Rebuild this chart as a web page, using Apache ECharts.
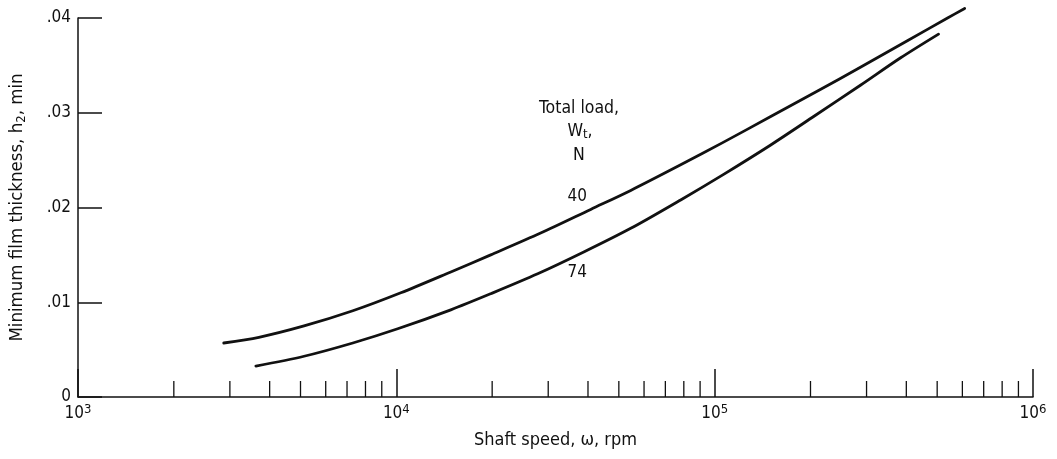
<!DOCTYPE html>
<html>
<head>
<meta charset="utf-8">
<script src="https://cdn.jsdelivr.net/npm/echarts@6/dist/echarts.min.js"></script>
<style>
html,body{margin:0;padding:0;background:#fff;}
#chart{width:1057px;height:459px;}
</style>
</head>
<body>
<div id="chart"></div>
<script>
// Shaft speed (rpm) and minimum film thickness (min)
const speed40 = [2870, 3700, 5130, 7300, 10330, 14830, 19800, 28400, 40800, 54500, 78200, 106700, 150000, 210500, 287000, 403000, 539000, 610000];
const film40  = [0.0057, 0.0063, 0.0075, 0.0091, 0.0110, 0.0132, 0.0150, 0.0173, 0.0198, 0.0218, 0.0245, 0.0269, 0.0296, 0.0323, 0.0348, 0.0376, 0.0400, 0.0410];
const speed74 = [3620, 5130, 7300, 10100, 14830, 19800, 27800, 38800, 54500, 78200, 106700, 150000, 204600, 287000, 384000, 505000];
const film74  = [0.00327, 0.0043, 0.0057, 0.0072, 0.0092, 0.0109, 0.0130, 0.0153, 0.0178, 0.0208, 0.0235, 0.0266, 0.0296, 0.0329, 0.0358, 0.0383];
const minorTickValues = [2000,3000,4000,5000,6000,7000,8000,9000,20000,30000,40000,50000,60000,70000,80000,90000,200000,300000,400000,500000,600000,700000,800000,900000];
const yTickLabels = ['0', '.01', '.02', '.03', '.04'];
const curveLabels = ['40', '74'];

const FONT = '"Liberation Sans Narrow","DejaVu Sans Condensed","Liberation Sans",sans-serif';
const chart = echarts.init(document.getElementById('chart'), null, {renderer: 'canvas'});

function pairs(xs, ys){ return xs.map((x,i)=>[x, ys[i]]); }

const baseGraphic = [
  {type: 'text', x: 579, y: 108, style: {text: 'Total load,', font: '17.5px ' + FONT, fill: '#111', align: 'center', verticalAlign: 'middle'}},
  {type: 'text', x: 580, y: 131, style: {text: 'W{s|t},', font: '17.5px ' + FONT, fill: '#111', align: 'center', verticalAlign: 'middle',
    rich: {s: {fontSize: 13, fontFamily: FONT, fill: '#111', verticalAlign: 'bottom', padding: [8,0,0,0]}}}},
  {type: 'text', x: 579, y: 155, style: {text: 'N', font: '17.5px ' + FONT, fill: '#111', align: 'center', verticalAlign: 'middle'}}
];

const option = {
  backgroundColor: '#fff',
  animation: false,
  grid: {left: 77, right: 24, top: 18, bottom: 62, containLabel: false},
  xAxis: {
    type: 'log', logBase: 10, min: 1000, max: 1000000, interval: 1,
    name: 'Shaft speed, \u03c9, rpm', nameLocation: 'middle', nameGap: 34,
    nameTextStyle: {color: '#111', fontSize: 18, fontFamily: FONT},
    axisLine: {show: true, onZero: false, lineStyle: {color: '#111', width: 1.5}},
    axisTick: {show: true, inside: true, length: 28, lineStyle: {color: '#111', width: 1.5}},
    splitLine: {show: false}, minorTick: {show: false},
    axisLabel: {
      color: '#111', fontSize: 17, fontFamily: FONT, margin: 6,
      formatter: function(v){ return '10{s|' + Math.round(Math.log10(v)) + '}'; },
      rich: {s: {fontSize: 13, fontFamily: FONT, color: '#111', verticalAlign: 'top', padding: [0,0,8,0]}}
    }
  },
  yAxis: {
    type: 'value', min: 0, max: 0.04, interval: 0.01,
    name: 'Minimum film thickness, h{sub|2}, min', nameLocation: 'middle', nameGap: 50,
    nameTextStyle: {color: '#111', fontSize: 18.5, fontFamily: FONT,
      rich: {sub: {fontSize: 13, fontFamily: FONT, color: '#111', verticalAlign: 'bottom', padding: [8,0,0,0]}}},
    axisLine: {show: true, lineStyle: {color: '#111', width: 1.5}},
    axisTick: {show: true, inside: true, length: 24, lineStyle: {color: '#111', width: 1.5}},
    splitLine: {show: false},
    axisLabel: {color: '#111', fontSize: 17, fontFamily: FONT, margin: 7,
      formatter: function(v){ const i = Math.round(v/0.01); return yTickLabels[i]; }}
  },
  series: [
    {type: 'line', data: pairs(speed40, film40), smooth: 0.3, showSymbol: false, clip: false,
     lineStyle: {color: '#111', width: 2.8, join: 'round', cap: 'round'}},
    {type: 'line', data: pairs(speed74, film74), smooth: 0.3, showSymbol: false, clip: false,
     lineStyle: {color: '#111', width: 2.8, join: 'round', cap: 'round'}},
    {type: 'custom', data: minorTickValues.map(v=>[v,0]), clip: false, silent: true,
     renderItem: function(params, api){
       const p = api.coord([api.value(0), 0]);
       return {type: 'line', shape: {x1: p[0], y1: p[1], x2: p[0], y2: p[1]-16},
               style: {stroke: '#111', lineWidth: 1.3}};
     }}
  ],
  graphic: baseGraphic
};
chart.setOption(option);

// Curve labels placed via the chart's own coordinate conversion
const lab40 = chart.convertToPixel({gridIndex: 0}, [37000, 0.0212]);
const lab74 = chart.convertToPixel({gridIndex: 0}, [37000, 0.0131]);
chart.setOption({graphic: baseGraphic.concat([
  {type: 'text', x: lab40[0], y: lab40[1], style: {text: curveLabels[0], font: '17px ' + FONT, fill: '#111', align: 'center', verticalAlign: 'middle'}},
  {type: 'text', x: lab74[0], y: lab74[1], style: {text: curveLabels[1], font: '17px ' + FONT, fill: '#111', align: 'center', verticalAlign: 'middle'}}
])});
</script>
</body>
</html>
